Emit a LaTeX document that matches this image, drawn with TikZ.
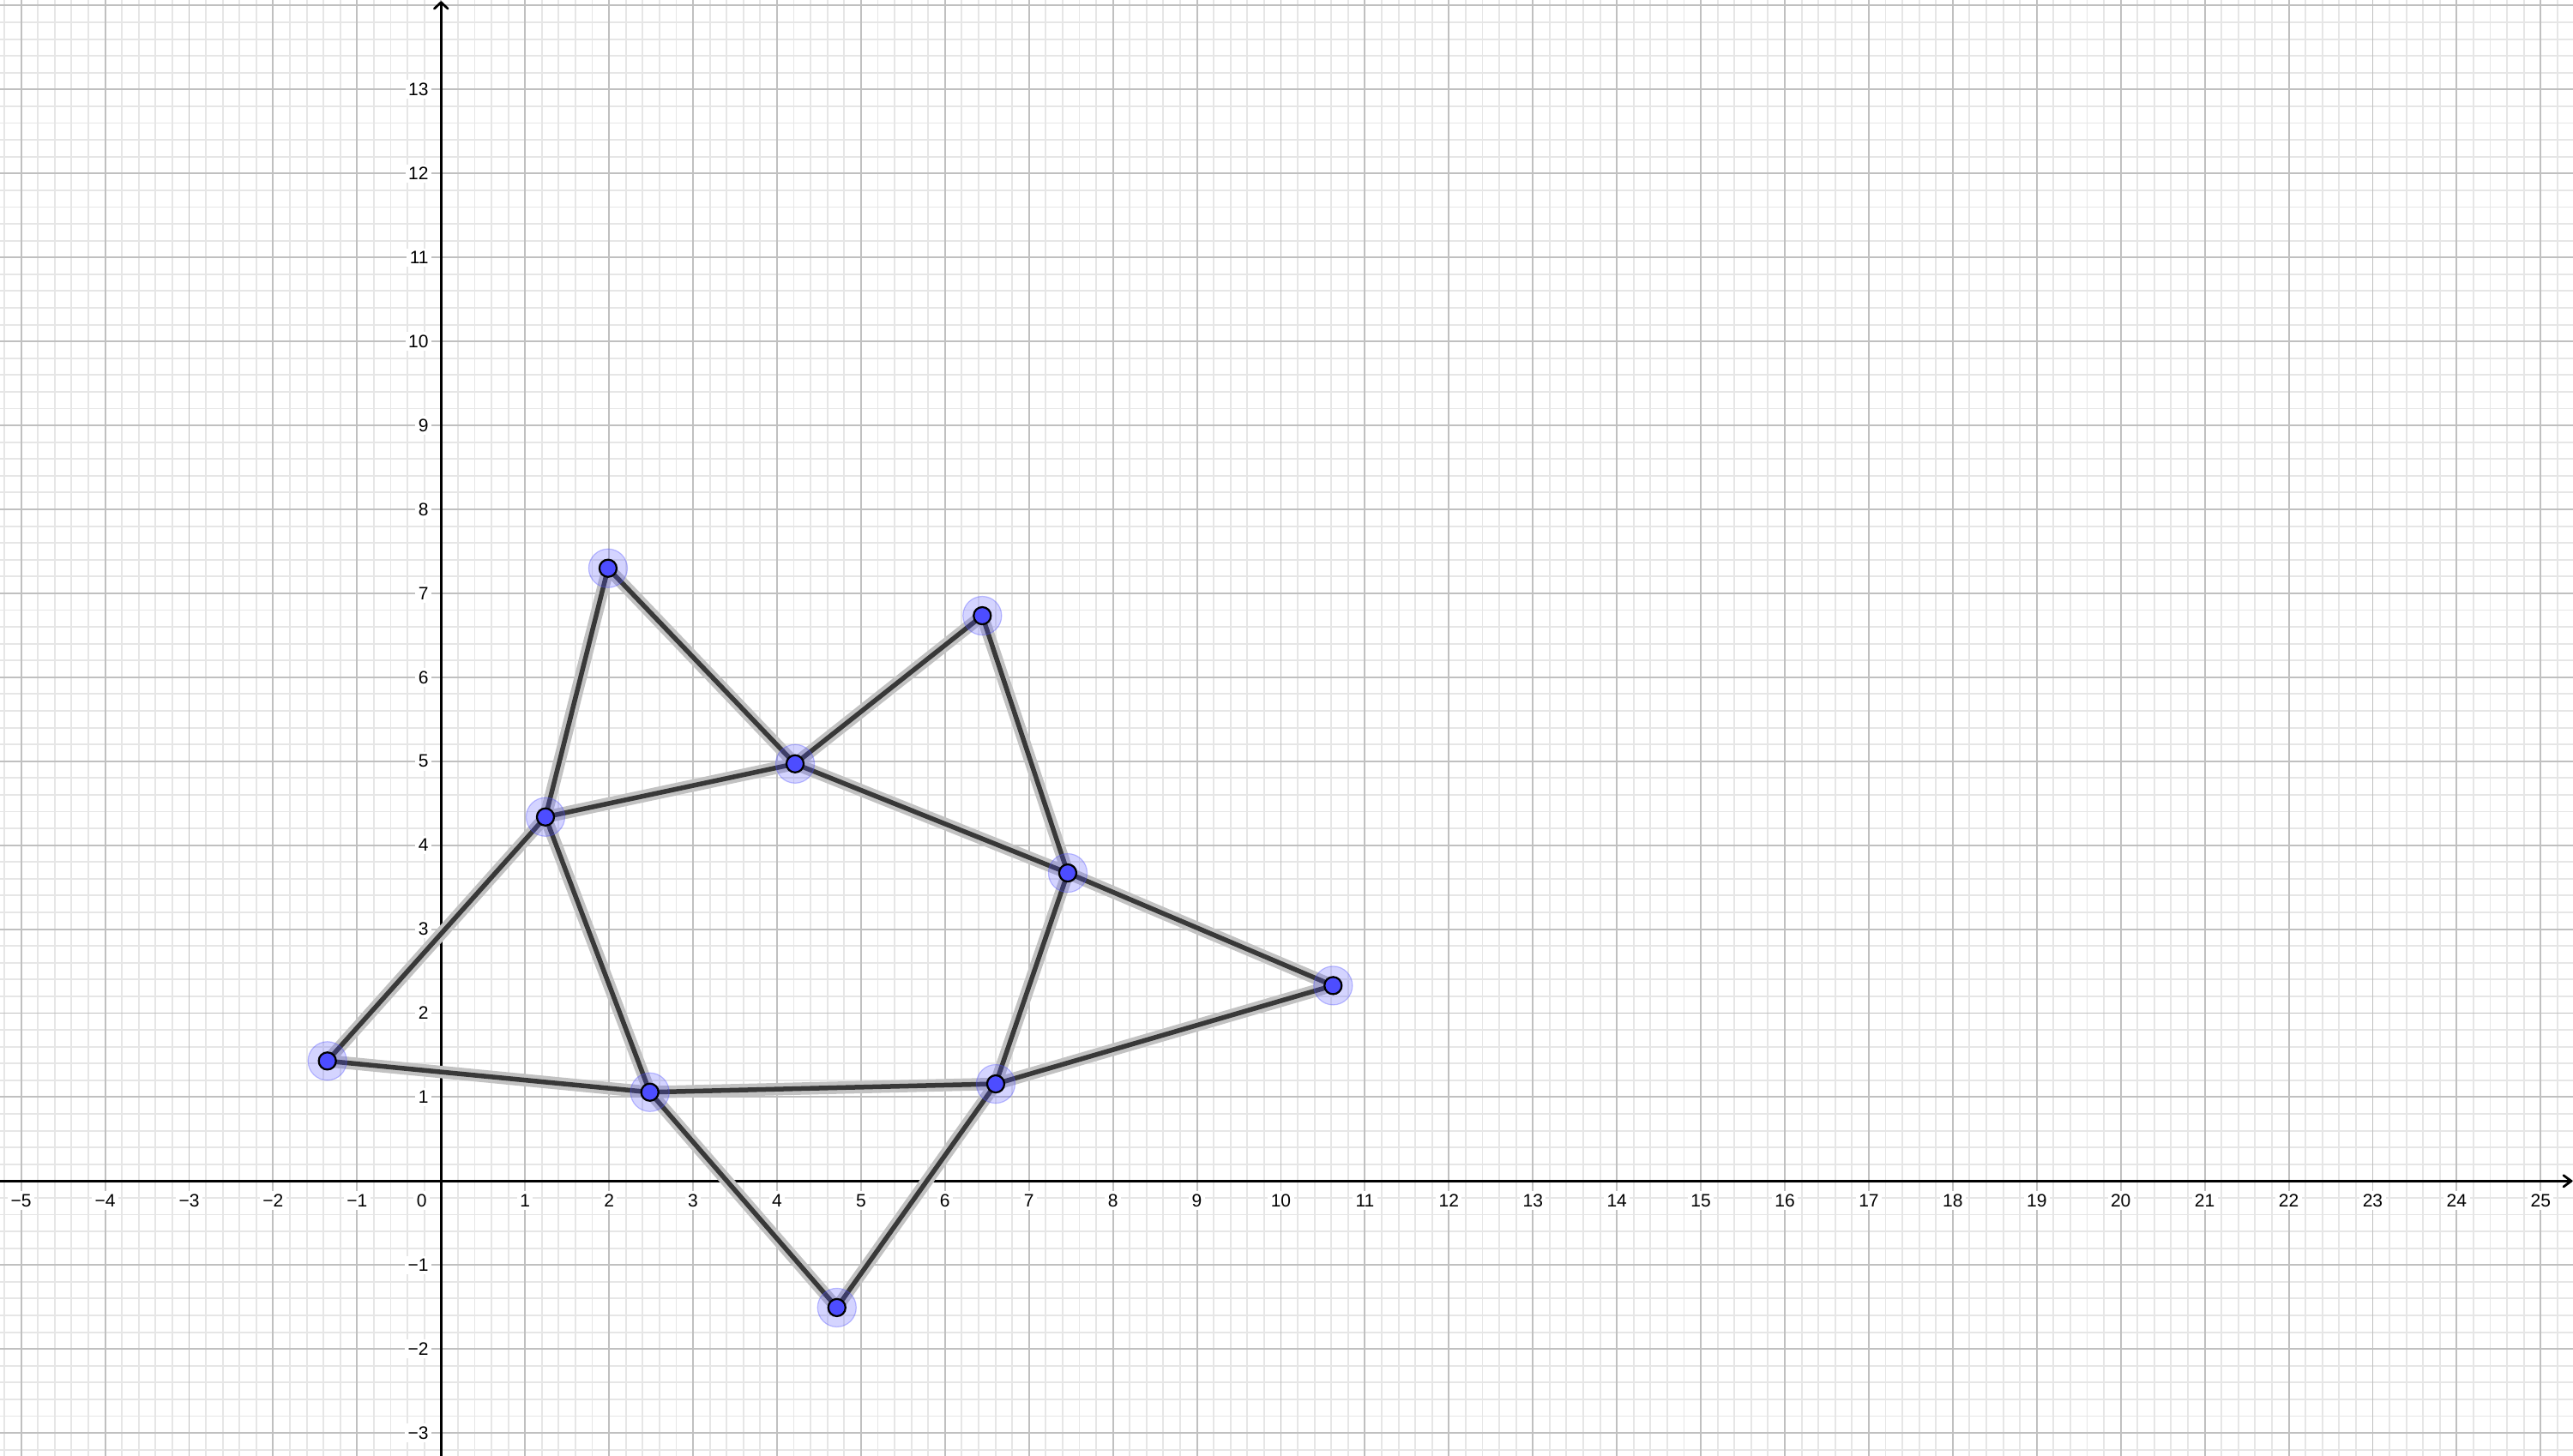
\documentclass[tikz,border=0pt]{standalone}
\usepackage{fontspec}
\setmainfont{Liberation Sans}
\definecolor{ggblue}{RGB}{77,77,255}
\definecolor{minorgray}{RGB}{230,230,230}
\definecolor{majorgray}{RGB}{192,192,192}
\begin{document}
\begin{tikzpicture}[x=1cm,y=1cm,
  minorgrid/.style={draw=minorgray, line width=0.55pt},
  majorgrid/.style={draw=majorgray, line width=0.55pt},
  axisline/.style={draw=black, line width=0.8pt, line join=round, line cap=round},
  ticklabel/.style={font=\fontsize{6.1}{7}\selectfont, fill=white, inner sep=1pt, text=black},
  halo/.style={line width=4.2pt, draw=black!24},
  seg/.style={line width=1.6pt, draw=black!78},
  ptglow/.style={circle, minimum size=0.46cm, inner sep=0pt, fill=ggblue, fill opacity=0.24, draw=ggblue, draw opacity=0.35, line width=0.35pt},
  ptdot/.style={circle, minimum size=0.205cm, inner sep=0pt, fill=ggblue, draw=black, line width=0.65pt}
]
\useasboundingbox (-5.252,-3.265) rectangle (25.385,14.066);
\begin{scope}
\clip (-5.252,-3.265) rectangle (25.385,14.066);
% grid
\draw[minorgrid] (-5.4,-3.4) grid[step=0.2] (25.6,14.2);
\draw[majorgrid] (-6,-4) grid[step=1] (26,15);
% axes
\draw[axisline] (-5.4,0) -- (25.364,0);
\draw[axisline] (25.272,0.068) -- (25.364,0) -- (25.272,-0.068);
\draw[axisline] (0,-3.4) -- (0,14.038);
\draw[axisline] (-0.08,13.963) -- (0,14.038) -- (0.08,13.963);
% tick labels
\foreach \i in {-5,...,-1}{
  \node[ticklabel] (xl\i) at (\i,-0.232) {−\the\numexpr-\i\relax};
}
\foreach \i in {1,...,25}{
  \node[ticklabel] (xl\i) at (\i,-0.232) {\i};
}
\foreach \j in {-3,...,-1}{
  \node[ticklabel, anchor=east] (yl\j) at (-0.108,\j) {−\the\numexpr-\j\relax};
}
\foreach \j in {1,...,13}{
  \node[ticklabel, anchor=east] (yl\j) at (-0.108,\j) {\j};
}
\node[ticklabel] (zero) at (-0.231,-0.232) {0};
\end{scope}
% points
\coordinate (pA) at (-1.354,1.430);
\coordinate (pB) at (1.988,7.298);
\coordinate (pC) at (1.243,4.336);
\coordinate (pD) at (4.215,4.969);
\coordinate (pE) at (6.444,6.733);
\coordinate (pF) at (7.462,3.669);
\coordinate (pG) at (10.621,2.328);
\coordinate (pH) at (6.604,1.157);
\coordinate (pI) at (2.486,1.058);
\coordinate (pJ) at (4.713,-1.507);
% segment halos
\foreach \a/\b in {pA/pC,pC/pB,pB/pD,pD/pE,pE/pF,pF/pG,pG/pH,pH/pJ,pJ/pI,pI/pA,pC/pD,pD/pF,pF/pH,pH/pI,pI/pC}{
  \draw[halo] (\a) -- (\b);
}
% segments
\foreach \a/\b in {pA/pC,pC/pB,pB/pD,pD/pE,pE/pF,pF/pG,pG/pH,pH/pJ,pJ/pI,pI/pA,pC/pD,pD/pF,pF/pH,pH/pI,pI/pC}{
  \draw[seg] (\a) -- (\b);
}
% point glows and dots
\foreach \p in {A,B,C,D,E,F,G,H,I,J}{
  \node[ptglow] (g\p) at (p\p) {};
  \node[ptdot] (\p) at (p\p) {};
}
\end{tikzpicture}
\end{document}
